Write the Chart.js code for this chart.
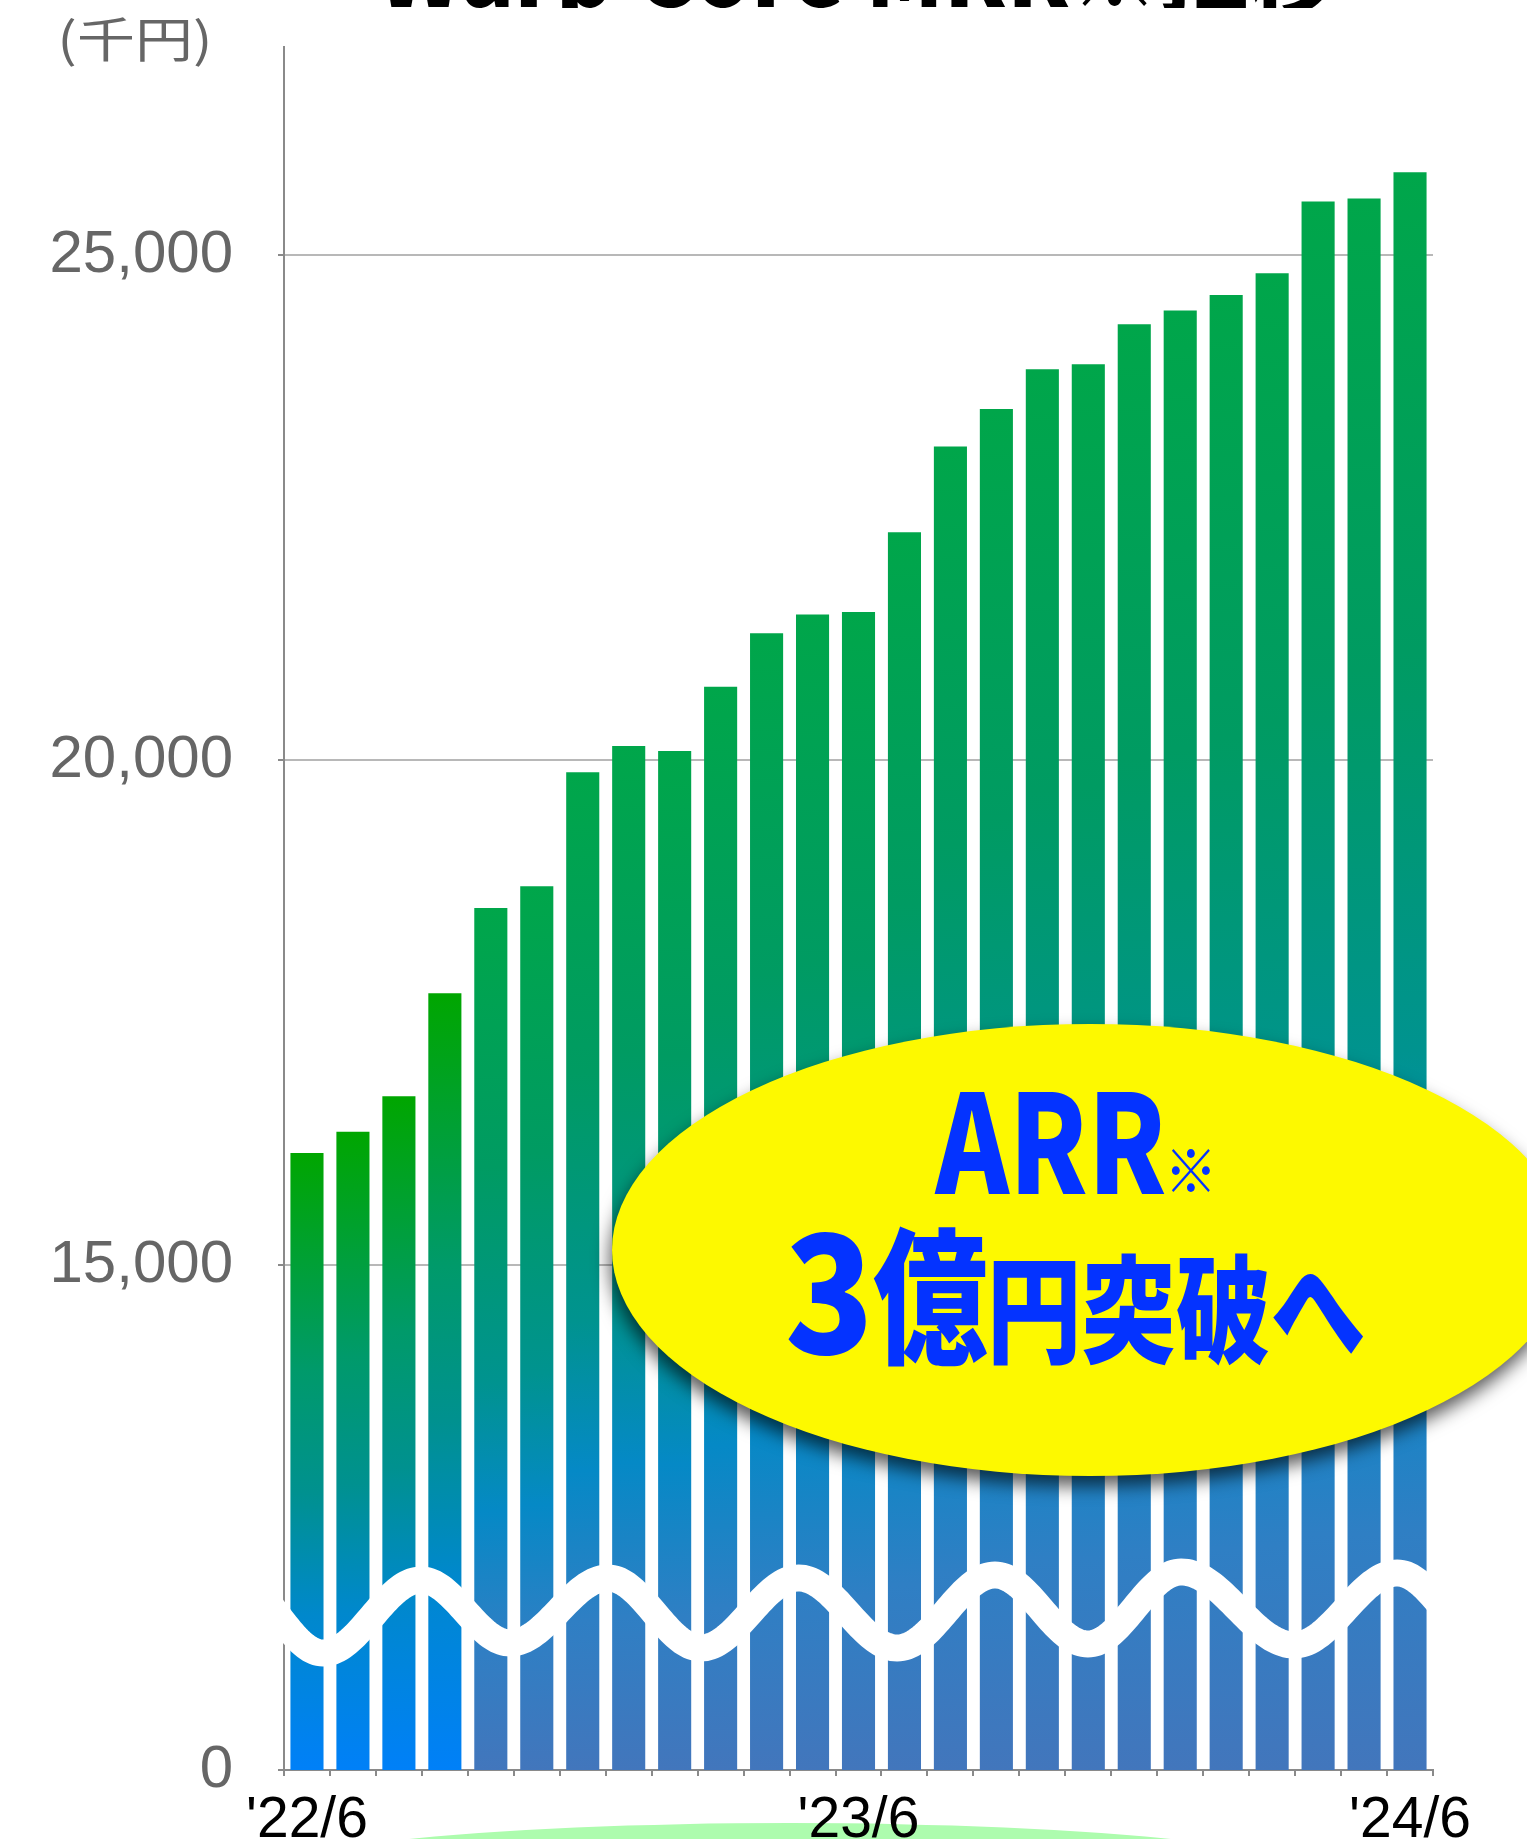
<!DOCTYPE html>
<html lang="ja">
<head>
<meta charset="utf-8">
<title>Warp Core MRR※推移</title>
<script src="https://cdn.jsdelivr.net/npm/chart.js@4.4.1/dist/chart.umd.min.js"></script>
<style>
  html, body { margin: 0; padding: 0; background: #fff; }
  #wrap { position: relative; width: 1527px; height: 1839px; }
</style>
</head>
<body>
<div id="wrap"><canvas id="mrrChart"></canvas></div>
<script>
// monthly MRR, thousand yen
const months = ["'22/6", "'22/7", "'22/8", "'22/9", "'22/10", "'22/11", "'22/12",
                "'23/1", "'23/2", "'23/3", "'23/4", "'23/5", "'23/6", "'23/7", "'23/8",
                "'23/9", "'23/10", "'23/11", "'23/12", "'24/1", "'24/2", "'24/3",
                "'24/4", "'24/5", "'24/6"];
const mrr = [16110, 16320, 16670, 17690, 18535, 18750, 19880, 20140, 20090, 20725,
             21255, 21440, 21465, 22255, 23105, 23475, 23870, 23920, 24315, 24450,
             24605, 24820, 25530, 25560, 25820];
const shownMonths = ["'22/6", "'23/6", "'24/6"];
const yTicks = [15000, 20000, 25000];
const yBreak = 10000;   // axis is cut here, labelled 0
const yTop = 27060;

const titleText = 'Warp Core MRR※推移';
const unitText = '(千円)';
const bubbleLine1 = 'ARR';
const bubbleMark = '※';
const bubbleLine2 = ['3', '億', '円突破へ'];

// gradient stops for the bars (first four bars are a brighter set)
const earlyStops = [[0, '#00a600'], [0.35, '#009a6a'], [0.55, '#00918f'], [0.75, '#0088cc'], [1, '#0080f8']];
const laterStops = [[0, '#00a64a'], [0.3, '#009b62'], [0.55, '#00938f'], [0.7, '#0589c6'], [0.85, '#2f7fc4'], [1, '#4276bc']];

function barFill(context) {
    const chart = context.chart;
    if (!chart.chartArea || context.raw === undefined) return '#00a64a';
    const y = chart.scales.y;
    const top = y.getPixelForValue(context.raw);
    const bottom = y.getPixelForValue(yBreak);
    const g = chart.ctx.createLinearGradient(0, top, 0, bottom);
    const stops = context.dataIndex < 4 ? earlyStops : laterStops;
    stops.forEach(s => g.addColorStop(s[0], s[1]));
    return g;
}

// fit text ink into a box
function fitBox(ctx, text, font, left, top, right, bottom) {
    ctx.font = font;
    const m = ctx.measureText(text);
    const w = m.actualBoundingBoxLeft + m.actualBoundingBoxRight;
    const h = m.actualBoundingBoxAscent + m.actualBoundingBoxDescent;
    ctx.save();
    ctx.translate(left, top);
    ctx.scale((right - left) / w, (bottom - top) / h);
    ctx.textBaseline = 'alphabetic';
    ctx.textAlign = 'left';
    ctx.fillText(text, m.actualBoundingBoxLeft, m.actualBoundingBoxAscent);
    ctx.restore();
}

// axis-break wave: x in category units, y as pixels above the baseline
const waveX = [-1.57, 0.35, 2.48, 4.42, 6.55, 8.57, 10.7, 12.84, 14.97, 16.99, 19.02, 21.48, 23.72, 25.74];
const waveY = [190, 117, 190, 127, 192, 122, 192, 122, 195, 126, 198, 125, 197, 125];

const decor = {
    id: 'decor',
    beforeDraw(chart) {
        const ctx = chart.ctx;
        ctx.save();
        // light green shape peeking at the bottom
        ctx.fillStyle = '#adfcae';
        ctx.beginPath();
        ctx.ellipse(790, 1883, 560, 60, 0, 0, Math.PI * 2);
        ctx.fill();
        // title, cut off at the top edge
        ctx.save();
        ctx.beginPath();
        ctx.rect(0, 0, chart.width, 8);
        ctx.clip();
        ctx.fillStyle = '#000';
        ctx.font = '900 96px "Noto Sans CJK JP"';
        const m = ctx.measureText(titleText);
        const w = m.actualBoundingBoxLeft + m.actualBoundingBoxRight;
        ctx.translate(379, 7);
        ctx.scale(957 / w, 1);
        ctx.fillText(titleText, m.actualBoundingBoxLeft, 0);
        ctx.restore();
        // unit
        ctx.fillStyle = '#666';
        fitBox(ctx, unitText, '400 50px "Noto Sans CJK JP"', 62, 17, 208, 67);
        ctx.restore();
    },
    afterDatasetsDraw(chart) {
        const ctx = chart.ctx;
        const xs = chart.scales.x;
        const base = chart.chartArea.bottom;
        const area = chart.chartArea;
        ctx.save();
        // white wave over the bars
        ctx.beginPath();
        ctx.rect(area.left - 4, 0, area.right - area.left + 8, chart.height);
        ctx.clip();
        ctx.beginPath();
        for (let i = 0; i < waveX.length - 1; i++) {
            const x0 = xs.getPixelForValue(waveX[i]), x1 = xs.getPixelForValue(waveX[i + 1]);
            const y0 = base - waveY[i], y1 = base - waveY[i + 1];
            for (let s = 0; s <= 40; s++) {
                const t = s / 40;
                const x = x0 + (x1 - x0) * t;
                const y = y0 + (y1 - y0) * (1 - Math.cos(Math.PI * t)) / 2;
                if (i === 0 && s === 0) ctx.moveTo(x, y); else ctx.lineTo(x, y);
            }
        }
        ctx.strokeStyle = '#fff';
        ctx.lineWidth = 27;
        ctx.stroke();
        ctx.restore();

        // yellow bubble
        ctx.save();
        ctx.shadowColor = 'rgba(0,0,0,0.65)';
        ctx.shadowBlur = 18;
        ctx.shadowOffsetX = -2;
        ctx.shadowOffsetY = 10;
        ctx.fillStyle = '#fdf900';
        ctx.beginPath();
        ctx.ellipse(1090, 1250, 478, 226, 0, 0, Math.PI * 2);
        ctx.fill();
        ctx.restore();

        ctx.save();
        ctx.fillStyle = '#0433ff';
        const heavy = '900 140px "Noto Sans CJK JP"';
        fitBox(ctx, bubbleLine1, heavy, 934, 1092, 1165, 1194);
        fitBox(ctx, bubbleMark, '700 50px "Noto Sans CJK JP"', 1172, 1148, 1210, 1193);
        fitBox(ctx, bubbleLine2[0], heavy, 788, 1232, 866, 1356);
        fitBox(ctx, bubbleLine2[1], heavy, 873, 1227, 987, 1368);
        fitBox(ctx, bubbleLine2[2], '900 120px "Noto Sans CJK JP"', 993, 1253, 1363, 1366);
        ctx.restore();
    }
};

const axisGray = '#8a8a8a';

new Chart(document.getElementById('mrrChart'), {
    type: 'bar',
    data: {
        labels: months,
        datasets: [{
            label: 'MRR',
            data: mrr,
            backgroundColor: barFill,
            borderWidth: 0,
            barPercentage: 0.72,
            categoryPercentage: 1.0
        }]
    },
    options: {
        responsive: true,
        maintainAspectRatio: false,
        animation: false,
        layout: { padding: { left: 0, top: 47, right: 94, bottom: 0 } },
        plugins: {
            legend: { display: false },
            tooltip: { enabled: false },
            title: { display: false }
        },
        scales: {
            x: {
                grid: {
                    offset: true,
                    drawOnChartArea: false,
                    drawTicks: true,
                    tickLength: 6,
                    color: axisGray,
                    lineWidth: 2
                },
                border: { display: true, color: axisGray, width: 2 },
                ticks: {
                    autoSkip: false,
                    maxRotation: 0,
                    padding: 11,
                    color: '#000',
                    font: { family: '"Liberation Sans", Arial, sans-serif', size: 57 },
                    callback: function(value, index) {
                        const lbl = months[index];
                        return shownMonths.includes(lbl) ? lbl : '';
                    }
                },
                afterFit: (scale) => {
                    scale.height = 69;
                    scale.paddingTop = 0;
                    scale.paddingBottom = 0;
                }
            },
            y: {
                min: yBreak,
                max: yTop,
                grid: {
                    color: (c) => (c.tick && c.tick.value === yBreak) ? axisGray : '#b8b8b8',
                    tickColor: axisGray,
                    lineWidth: 2,
                    tickLength: 6
                },
                border: { display: true, color: axisGray, width: 2 },
                ticks: {
                    padding: 45,
                    color: '#666',
                    font: { family: '"Liberation Sans", Arial, sans-serif', size: 60 },
                    callback: (value) => value === yBreak ? '0' : value.toLocaleString('en-US')
                },
                afterBuildTicks: (scale) => {
                    scale.ticks = [yBreak].concat(yTicks).map(v => ({ value: v }));
                },
                afterFit: (scale) => {
                    scale.width = 284;
                    scale.paddingTop = 0;
                    scale.paddingBottom = 0;
                }
            }
        }
    },
    plugins: [decor]
});
</script>
</body>
</html>
